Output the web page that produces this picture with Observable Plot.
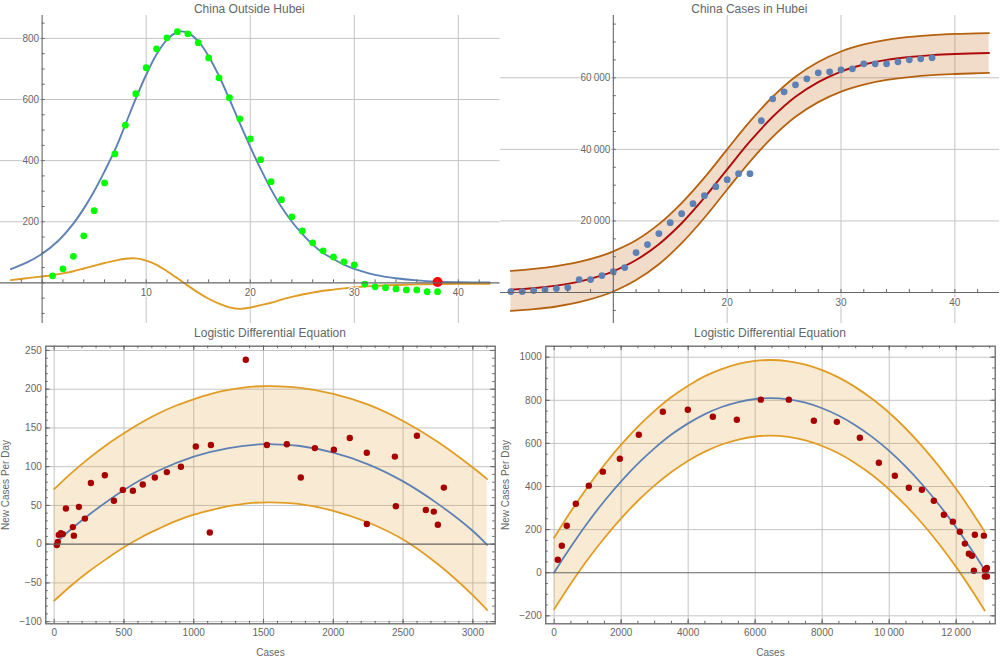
<!DOCTYPE html>
<html>
<head>
<meta charset="utf-8">
<script src="https://cdn.jsdelivr.net/npm/d3@7"></script>
<script src="https://cdn.jsdelivr.net/npm/@observablehq/plot@0.6"></script>
<style>
  body { margin: 0; background: #fff; font-family: "Liberation Sans", sans-serif; }
  #page { position: relative; width: 1000px; height: 660px; overflow: hidden; }
  #page svg { position: absolute; overflow: visible; background: transparent; }
  .ttl { position: absolute; width: 400px; text-align: center; font-size: 12px; line-height: 14px; color: #666; white-space: nowrap; }
</style>
</head>
<body>
<div id="page"></div>
<script>
// ---------- China Outside Hubei ----------
const outsideDays = [1,2,3,4,5,6,7,8,9,10,11,12,13,14,15,16,17,18,19,20,21,22,23,24,25,26,27,28,29,30,31,32,33,34,35,36,37,38];
const outsideNew = [23,46,87,154,236,327,422,516,619,704,766,802,822,815,786,736,671,606,537,471,403,331,272,216,170,131,105,85,69,59,-4,-13,-16,-20,-23,-23,-29,-29];
const outsideFitX = [-3,-1.5,0,1.5,3,4,5,6,7,8,9,10,11,12,13,13.4,14,15,16,17,18,19,20,21,22,23,24,25,26,27,28,29,30,31,32,34,36,38,40,43];
const outsideFitY = [45,66,95,136,194,243,300,365,435,518,603,681,748,796,821,823,818,791,742,677,601,522,445,373,306,248,200,160,125,98,78,60,46,35,26,15,8,4,2,1];
const outsideDiffX = [-3,-1,0,1,2,3,4,5,6,7,8,9,10,11,12,13,14,15,16,17,18,19,20,21,22,23,24,25,26,27,28,29,30,32,34,36,38,40,43];
const outsideDiffY = [9,17,21,25,31,38,47,56,65,73,79,80,73,59,38,15,-9,-32,-52,-68,-80,-85,-81,-73,-65,-55,-46,-38,-32,-26,-22,-18,-15,-10,-7,-5,-4,-3,-3];
const currentDay = [38];
const currentValue = [3];

// ---------- China Cases in Hubei ----------
const hubeiDays = [1,2,3,4,5,6,7,8,9,10,11,12,13,14,15,16,17,18,19,20,21,22,23,24,25,26,27,28,29,30,31,32,33,34,35,36,37,38];
const hubeiCases = [280,280,560,840,1120,1400,3630,3630,4740,5860,6980,11160,13390,16460,19530,22040,24830,27060,29570,31530,33200,33200,47990,54130,56080,58030,59710,61380,61660,62220,62500,63890,63890,63890,64450,65010,65290,65570];
const hubeiFitX = [1,3,5,7,9,10,12,14,16,18,20,22,24,26,28,30,32,34,36,38,40,43];
const hubeiFit = [800,1210,1926,3040,4776,5940,9080,13500,19360,26500,34400,42200,49100,54700,58800,61750,63700,65000,65800,66330,66650,66930];
const hubeiUpper = [6050,6600,7400,8550,10300,11500,14600,19100,25000,32100,40000,47800,54700,60300,64400,67350,69300,70600,71400,71900,72250,72500];
const hubeiLower = [-5150,-4650,-3900,-2700,-900,300,3500,7900,13800,20900,28800,36600,43500,49100,53200,56150,58100,59400,60200,60750,61050,61350];

// ---------- Logistic Differential Equation (outside Hubei) ----------
const smallCases = [19,26,33,48,62,84,134,141,177,220,263,363,428,492,564,635,721,807,908,1015,1123,1115,1373,1524,1667,1767,1868,2004,2118,2240,2240,2441,2448,2599,2663,2720,2749,2792];
const smallNew = [-1,3,12,14,13,46,22,11,48,33,79,89,56,70,69,77,86,93,100,126,128,15,238,128,129,86,124,122,137,118,26,113,49,140,44,42,25,73];
const smallCurveX = [20,100,250,500,750,1000,1250,1500,1555,1750,2000,2250,2500,2750,3000,3102];
const smallCurveY = [3,16,38,70,95,113,124,129,129,127,118,103,81,52,17,-1];
const smallBandX = [0,125,250,375,500,625,750,875,1000,1125,1250,1400,1550,1750,2000,2250,2500,2750,3000,3102];
const smallUpper = [71,92,111,128,143,157,169,179,187,194,199,203,204,202,194,180,159,132,99,84];
const smallLower = [-73,-53,-35,-19,-4,9,20,30,38,44,49,53,54,52,43,28,6,-26,-66,-85];

// ---------- Logistic Differential Equation (Hubei) ----------
const largeCases = [109,229,378,647,1035,1453,1960,2527,3244,3990,4736,5453,6169,7005,7751,8438,9124,9692,10169,10587,10975,11333,11632,11900,12109,12259,12378,12468,12557,12527,12826,12856,12915,12886,12856,12915];
const largeNew = [60,125,218,320,404,469,529,640,747,756,724,710,803,803,705,700,626,510,450,394,385,334,269,237,190,135,88,79,176,9,172,14,22,14,-17,-17];
const largeCurveX = [0,250,500,1000,1500,2000,2500,3000,3500,4000,4500,5000,5500,6000,6450,7000,7500,8000,8500,9000,9500,10000,10500,11000,11500,12000,12500,12850];
const largeCurveY = [0,62,121,232,333,424,506,578,641,693,736,769,792,806,810,804,789,763,728,683,629,565,491,407,313,210,97,12];
const largeUpper = [162,225,285,398,501,594,678,751,815,868,912,945,969,983,987,981,966,940,905,860,806,742,668,584,491,388,275,190];
const largeLower = [-170,-109,-50,61,161,252,334,405,467,520,562,595,618,632,636,630,614,588,553,507,452,386,311,226,131,26,-89,-175];

// ---------- Tick labels ----------
const outsideXLabels = [10,20,30,40];
const outsideYLabels = [200,400,600,800];
const hubeiXLabels = [20,30,40];
const hubeiYLabels = [20000,40000,60000];
const smallXLabels = [0,500,1000,1500,2000,2500,3000];
const smallYLabels = [-100,-50,0,50,100,150,200,250];
const largeXLabels = [0,2000,4000,6000,8000,10000,12000];
const largeYLabels = [-200,0,200,400,600,800,1000];

// ---------- Colours ----------
const BLUE = "#5E81B5", ORANGE = "#E19C24", GREY = "#666666", GRID = "#c4c4c4", DARKRED = "#A80000";
const FONT = "'Liberation Sans', sans-serif";

const page = document.getElementById("page");
const range = (a, b, s) => d3.range(a, b + s / 2, s);
const fmt = d => {
  const s = String(Math.abs(d));
  const body = Math.abs(d) >= 10000 ? s.slice(0, -3) + "\u2009" + s.slice(-3) : s;
  return (d < 0 ? "\u2212" : "") + body;
};
const table = (xs, cols) => xs.map((x, i) => Object.fromEntries([["x", x], ...Object.entries(cols).map(([k, v]) => [k, v[i]])]));
const pairs = (xs, ys) => xs.map((x, i) => ({x, y: ys[i]}));

function place(svg, left, top) {
  svg.style.left = left + "px";
  svg.style.top = top + "px";
  page.appendChild(svg);
}
function title(text, cx, cy) {
  const d = document.createElement("div");
  d.className = "ttl";
  d.textContent = text;
  d.style.left = (cx - 200) + "px";
  d.style.top = (cy - 7) + "px";
  page.appendChild(d);
}

// Panels with axes crossing inside the plot
function crossedPanel({xDomain, yDomain, width, height, xOrigin, xGrid, yGrid, xLabels, yLabels, xMinor, yMinor, marks}) {
  return Plot.plot({
    width, height, margin: 0,
    x: {domain: xDomain, range: [0, width], axis: null},
    y: {domain: yDomain, range: [height, 0], axis: null},
    style: {fontFamily: FONT, fontSize: "10px", background: "transparent"},
    marks: [
      Plot.ruleX(xGrid, {stroke: GRID, strokeWidth: 1}),
      Plot.ruleY(yGrid, {stroke: GRID, strokeWidth: 1}),
      ...marks,
      Plot.ruleY([0], {stroke: GREY, strokeWidth: 1.1}),
      Plot.ruleX([xOrigin], {stroke: GREY, strokeWidth: 1.1}),
      Plot.ruleX(xMinor, {x: d => d, y1: 0, y2: (yDomain[1] - yDomain[0]) / 308 * 3, stroke: GREY, strokeWidth: 1}),
      Plot.ruleY(yMinor, {y: d => d, x1: xOrigin, x2: xOrigin + (xDomain[1] - xDomain[0]) / width * 3, stroke: GREY, strokeWidth: 1}),
      Plot.text(xLabels, {x: d => d, y: 0, text: fmt, dy: 10, fill: GREY, stroke: "white", strokeWidth: 2, fontSize: 10}),
      Plot.text(yLabels, {x: xOrigin, y: d => d, text: fmt, dx: -3, textAnchor: "end", fill: GREY, stroke: "white", strokeWidth: 2, fontSize: 10})
    ]
  });
}

// Framed panels with inward ticks on all four sides
function framedPanel({xDomain, yDomain, xLabels, yLabels, xMinor, yMinor, marks}) {
  const W = 500, H = 335, ml = 45.3, mr = 5.3, mt = 20.7, mb = 36.7;
  const pw = W - ml - mr, ph = H - mt - mb;
  const ticks = (values, size) => [
    Plot.ruleX(values, {x: d => d, insetTop: ph - size, stroke: GREY, strokeWidth: 1}),
    Plot.ruleX(values, {x: d => d, insetBottom: ph - size, stroke: GREY, strokeWidth: 1})
  ];
  const ticksY = (values, size) => [
    Plot.ruleY(values, {y: d => d, insetRight: pw - size, stroke: GREY, strokeWidth: 1}),
    Plot.ruleY(values, {y: d => d, insetLeft: pw - size, stroke: GREY, strokeWidth: 1})
  ];
  return Plot.plot({
    width: W, height: H, marginLeft: ml, marginRight: mr, marginTop: mt, marginBottom: mb,
    x: {domain: xDomain},
    y: {domain: yDomain},
    style: {fontFamily: FONT, fontSize: "10px", background: "transparent"},
    marks: [
      Plot.ruleX(xLabels, {stroke: GRID, strokeWidth: 1}),
      Plot.ruleY(yLabels.filter(d => d !== 0), {stroke: GRID, strokeWidth: 1}),
      ...marks,
      Plot.ruleY([0], {stroke: GREY, strokeWidth: 1.1}),
      ...ticks(xMinor, 2.5), ...ticks(xLabels, 4.5),
      ...ticksY(yMinor, 2.5), ...ticksY(yLabels, 4.5),
      Plot.frame({stroke: GREY, strokeWidth: 1.3}),
      Plot.axisX(xLabels, {anchor: "bottom", tickSize: 0, tickPadding: 5, tickFormat: fmt, color: GREY, fill: GREY, fontSize: 10,
        label: "Cases", labelAnchor: "center", labelArrow: "none", labelOffset: 32}),
      Plot.axisY(yLabels, {anchor: "left", tickSize: 0, tickPadding: 4, tickFormat: fmt, color: GREY, fill: GREY, fontSize: 10,
        label: "New Cases Per Day", labelAnchor: "center", labelArrow: "none", labelOffset: 44})
    ]
  });
}

function bandMarks(rows, edge, fill, fillOpacity, width) {
  return [
    Plot.areaY(rows, {x: "x", y1: "lower", y2: "upper", fill, fillOpacity, curve: "catmull-rom"}),
    Plot.lineY(rows, {x: "x", y: "upper", stroke: edge, strokeWidth: width, curve: "catmull-rom"}),
    Plot.lineY(rows, {x: "x", y: "lower", stroke: edge, strokeWidth: width, curve: "catmull-rom"})
  ];
}

// Panel 1
place(crossedPanel({
  xDomain: [-4, 44], yDomain: [-133, 875], width: 499.5, height: 308, xOrigin: 0,
  xGrid: outsideXLabels, yGrid: outsideYLabels, xLabels: outsideXLabels, yLabels: outsideYLabels,
  xMinor: range(-2, 42, 2), yMinor: range(-100, 850, 50),
  marks: [
    Plot.lineY(pairs(outsideFitX, outsideFitY), {x: "x", y: "y", stroke: BLUE, strokeWidth: 1.9, curve: "catmull-rom"}),
    Plot.lineY(pairs(outsideDiffX, outsideDiffY), {x: "x", y: "y", stroke: ORANGE, strokeWidth: 1.9, curve: "catmull-rom"}),
    Plot.dot(pairs(outsideDays, outsideNew), {x: "x", y: "y", r: 3.4, fill: "#00FF00", stroke: "none"}),
    Plot.dot(pairs(currentDay, currentValue), {x: "x", y: "y", r: 5, fill: "#FF0000", stroke: "none"})
  ]
}), 0, 15);
title("China Outside Hubei", 249.3, 8.7);

// Panel 2
place(crossedPanel({
  xDomain: [0.09, 43.92], yDomain: [-8650, 77400], width: 499, height: 308, xOrigin: 10,
  xGrid: hubeiXLabels, yGrid: hubeiYLabels, xLabels: hubeiXLabels, yLabels: hubeiYLabels,
  xMinor: range(2, 42, 2), yMinor: range(-5000, 75000, 5000),
  marks: [
    ...bandMarks(table(hubeiFitX, {upper: hubeiUpper, lower: hubeiLower}), "#B5620F", "#C46A1E", 0.24, 1.8),
    Plot.lineY(pairs(hubeiFitX, hubeiFit), {x: "x", y: "y", stroke: "#AE0A0A", strokeWidth: 1.9, curve: "catmull-rom"}),
    Plot.dot(pairs(hubeiDays, hubeiCases), {x: "x", y: "y", r: 3.4, fill: BLUE, stroke: "none"})
  ]
}), 500, 15);
title("China Cases in Hubei", 749.3, 8.7);

// Panel 3
place(framedPanel({
  xDomain: [-60, 3160], yDomain: [-102.8, 255.5], xLabels: smallXLabels, yLabels: smallYLabels,
  xMinor: range(100, 3100, 100), yMinor: range(-100, 250, 10),
  marks: [
    ...bandMarks(table(smallBandX, {upper: smallUpper, lower: smallLower}), ORANGE, ORANGE, 0.2, 1.8),
    Plot.lineY(pairs(smallCurveX, smallCurveY), {x: "x", y: "y", stroke: BLUE, strokeWidth: 1.8, curve: "catmull-rom"}),
    Plot.dot(pairs(smallCases, smallNew), {x: "x", y: "y", r: 3.2, fill: DARKRED, stroke: "none"})
  ]
}), 0, 325);
title("Logistic Differential Equation", 270, 332.7);

// Panel 4
place(framedPanel({
  xDomain: [-249, 13164], yDomain: [-237, 1051], xLabels: largeXLabels, yLabels: largeYLabels,
  xMinor: range(500, 13000, 500), yMinor: range(-200, 1000, 50),
  marks: [
    ...bandMarks(table(largeCurveX, {upper: largeUpper, lower: largeLower}), ORANGE, ORANGE, 0.2, 1.8),
    Plot.lineY(pairs(largeCurveX, largeCurveY), {x: "x", y: "y", stroke: BLUE, strokeWidth: 1.8, curve: "catmull-rom"}),
    Plot.dot(pairs(largeCases, largeNew), {x: "x", y: "y", r: 3.2, fill: DARKRED, stroke: "none"})
  ]
}), 500, 325);
title("Logistic Differential Equation", 770, 332.7);
</script>
</body>
</html>
